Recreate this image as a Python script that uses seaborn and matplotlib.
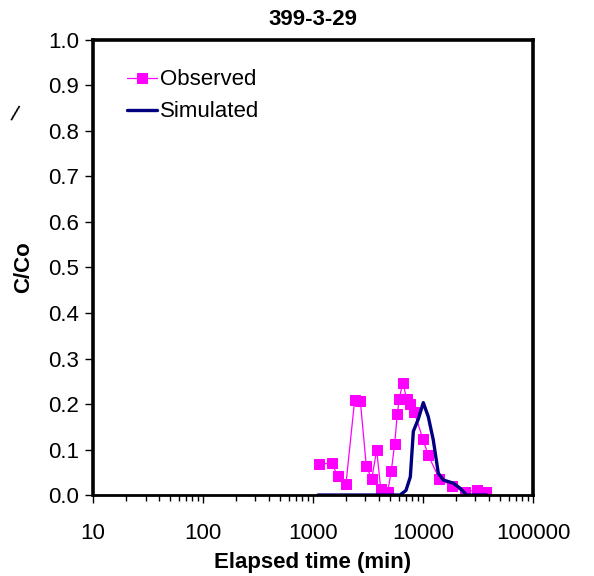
import numpy as np
import pandas as pd
import matplotlib
matplotlib.use("Agg")
import matplotlib.pyplot as plt
import matplotlib.ticker as mticker
import seaborn as sns

obs_time = [1141, 1479, 1677, 1995, 2393, 2692, 3051, 3417, 3794, 4126, 4775,
            5150, 5533, 5838, 6092, 6535, 7112, 7670, 8340, 10000, 11170,
            14060, 18350, 23930, 30760, 37400]
obs_conc = [0.068, 0.070, 0.042, 0.025, 0.209, 0.207, 0.064, 0.035, 0.099,
            0.013, 0.007, 0.053, 0.113, 0.179, 0.211, 0.247, 0.212, 0.201,
            0.182, 0.122, 0.087, 0.036, 0.020, 0.006, 0.011, 0.007]

sim_time = [1110, 6180, 7000, 7670, 8170, 9060, 10060, 11170, 12400, 13770,
            15300, 18850, 21680, 24940, 38000]
sim_conc = [0.0, 0.0, 0.01, 0.04, 0.14, 0.167, 0.203, 0.172, 0.121, 0.048,
            0.033, 0.026, 0.015, 0.0, 0.0]

x_ticks = [10, 100, 1000, 10000, 100000]
y_ticks = [0.0, 0.1, 0.2, 0.3, 0.4, 0.5, 0.6, 0.7, 0.8, 0.9, 1.0]

sns.set_style("white")
plt.rcParams['font.family'] = ['Liberation Sans', 'DejaVu Sans']
plt.rcParams['text.color'] = 'black'
plt.rcParams['axes.labelcolor'] = 'black'
plt.rcParams['xtick.color'] = 'black'
plt.rcParams['ytick.color'] = 'black'

obs = pd.DataFrame({"t": obs_time, "c": obs_conc})
sim = pd.DataFrame({"t": sim_time, "c": sim_conc})

fig = plt.figure(figsize=(5.94, 5.76), dpi=100)
ax = fig.add_axes([0.1566, 0.1406, 0.7407, 0.79])

sns.lineplot(data=obs, x="t", y="c", ax=ax, color="#FF00FF", lw=0.9,
             marker="s", markersize=7, markeredgecolor="#FF00FF",
             label="Observed", sort=False)
sns.lineplot(data=sim, x="t", y="c", ax=ax, color="#000080", lw=2.4,
             label="Simulated", sort=False)

ax.set_xscale("log")
ax.set_xlim(10, 100000)
ax.set_ylim(0, 1.0)
ax.set_xticks(x_ticks)
ax.xaxis.set_major_formatter(mticker.FuncFormatter(lambda v, p: f"{int(v)}"))
ax.xaxis.set_minor_locator(mticker.LogLocator(base=10, subs=np.arange(2, 10)))
ax.xaxis.set_minor_formatter(mticker.NullFormatter())
ax.set_yticks(y_ticks)
ax.yaxis.set_major_formatter(mticker.FormatStrFormatter("%.1f"))

ax.tick_params(axis="both", which="major", direction="out", length=6,
               width=1, labelsize=16, colors="black", pad=4)
ax.tick_params(axis="x", which="minor", direction="out", length=4, width=1)
ax.tick_params(axis="x", which="major", pad=14)
ax.tick_params(bottom=True, left=True, which="both")
ax.tick_params(axis="y", which="minor", left=False)

for side in ["left", "top", "right"]:
    ax.spines[side].set_linewidth(2.6)
    ax.spines[side].set_color("black")
ax.spines["bottom"].set_linewidth(2.0)
ax.spines["bottom"].set_color("black")

ax.set_xlabel("Elapsed time (min)", fontsize=16, fontweight="bold", labelpad=6)
ax.set_ylabel("C/Co", fontsize=16, fontweight="bold", labelpad=10)
ax.set_title("399-3-29", fontsize=16, fontweight="bold", pad=11)

leg = ax.legend(loc="upper left", bbox_to_anchor=(0.057, 0.955), frameon=False,
                fontsize=16, handlelength=1.35, handletextpad=0.15,
                labelspacing=0.5, borderaxespad=0)

fig.text(0.014, 0.79, "/", fontsize=16, rotation=-15)

fig.savefig("out.png", dpi=100)
